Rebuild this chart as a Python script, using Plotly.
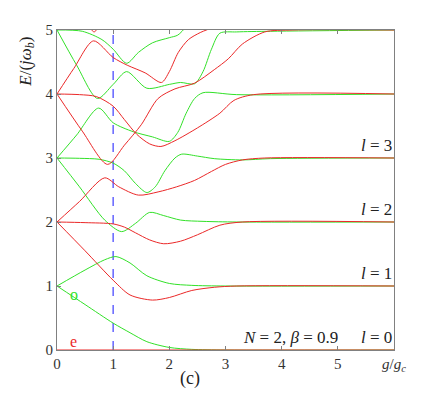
import plotly.graph_objects as go

# widma poziomow energii, N=2, beta=0.9
# czerwone = parzyste (e), zielone = nieparzyste (o)
r0_g = [0, 6]
r0_E = [0, 0]

g1d_g = [0, 0.5, 1.0, 1.3, 1.6, 2.0, 2.4, 3.0, 6]
g1d_E = [1, 0.71, 0.42, 0.27, 0.13, 0.04, 0.01, 0, 0]
g1u_g = [0, 0.5, 0.85, 1.05, 1.3, 1.6, 2.0, 2.4, 3.0, 6]
g1u_E = [1, 1.25, 1.41, 1.46, 1.36, 1.16, 1.04, 1.01, 1.0, 1.0]

r2a_g = [0, 0.5, 1.0, 1.3, 1.7, 2.0, 2.4, 2.8, 3.2, 6]
r2a_E = [2, 1.55, 1.09, 0.86, 0.78, 0.82, 0.93, 0.98, 1.0, 1.0]
r2b_g = [0, 0.5, 1.0, 1.2, 1.4, 1.65, 1.9, 2.2, 2.5, 2.9, 3.3, 6]
r2b_E = [2, 1.99, 1.97, 1.92, 1.83, 1.72, 1.66, 1.70, 1.80, 1.95, 2.0, 2.0]
r2c_g = [0, 0.4, 0.85, 1.1, 1.45, 1.8, 2.13, 2.45, 2.75, 3.0, 3.3, 3.7, 6]
r2c_E = [2, 2.32, 2.69, 2.55, 2.42, 2.47, 2.55, 2.65, 2.79, 2.9, 2.97, 3.0, 3.0]

g3d_g = [0, 0.4, 0.85, 1.15, 1.4, 1.65, 1.9, 2.2, 2.6, 3.2, 6]
g3d_E = [3, 2.55, 2.03, 1.85, 1.98, 2.15, 2.1, 2.03, 2.01, 2.0, 2.0]
g3f_g = [0, 0.4, 0.75, 1.0, 1.2, 1.4, 1.6, 1.75, 1.92, 2.1, 2.22, 2.5, 2.8, 3.3, 3.8, 6]
g3f_E = [3, 2.995, 2.98, 2.92, 2.8, 2.6, 2.46, 2.55, 2.8, 3.0, 3.06, 3.03, 2.99, 2.97, 2.99, 3.0]
g3u_g = [0, 0.35, 0.74, 1.0, 1.36, 1.7, 2.0, 2.15, 2.3, 2.45, 2.6, 3.2, 6]
g3u_E = [3, 3.36, 3.78, 3.55, 3.41, 3.33, 3.26, 3.4, 3.7, 3.93, 4.02, 3.99, 4.0]

r4d_g = [0, 0.45, 0.9, 1.2, 1.5, 1.8, 2.1, 2.45, 2.8, 3.05, 3.3, 3.7, 4.2, 6]
r4d_E = [4, 3.42, 2.9, 3.2, 3.52, 3.93, 4.08, 4.17, 4.38, 4.55, 4.78, 4.97, 5.0, 5.0]
r4f_g = [0, 0.4, 0.7, 1.0, 1.2, 1.42, 1.65, 1.85, 2.1, 2.5, 2.9, 3.15, 3.5, 6]
r4f_E = [4, 3.99, 3.96, 3.81, 3.6, 3.37, 3.22, 3.18, 3.27, 3.47, 3.7, 3.9, 3.99, 4.0]
r4u_g = [0, 0.3, 0.65, 1.0, 1.25, 1.57, 1.86, 2.0, 2.16, 2.34, 2.55, 2.8, 3.0]
r4u_E = [4, 4.4, 4.83, 4.57, 4.45, 4.33, 4.18, 4.35, 4.65, 4.85, 4.96, 5.05, 5.15]

g5d_g = [0, 0.35, 0.72, 1.0, 1.24, 1.6, 2.0, 2.2, 2.45, 2.6, 2.75, 2.9, 3.2, 3.8, 6]
g5d_E = [5, 4.45, 3.93, 4.15, 4.35, 4.09, 4.15, 4.18, 4.16, 4.35, 4.7, 4.95, 4.97, 4.98, 5.0]
g5f_g = [0, 0.45, 0.8, 1.0, 1.24, 1.45, 1.7, 2.0, 2.15, 2.3, 2.45]
g5f_E = [5, 4.98, 4.85, 4.7, 4.48, 4.65, 4.8, 4.88, 4.92, 5.05, 5.2]
r6_g = [0.52, 0.6, 0.66, 0.72, 0.8]
r6_E = [5.2, 5.02, 4.97, 5.02, 5.2]

czerwone = [(r0_g, r0_E), (r2a_g, r2a_E), (r2b_g, r2b_E), (r2c_g, r2c_E),
            (r4d_g, r4d_E), (r4f_g, r4f_E), (r4u_g, r4u_E), (r6_g, r6_E)]
zielone = [(g1d_g, g1d_E), (g1u_g, g1u_E), (g3d_g, g3d_E), (g3f_g, g3f_E),
           (g3u_g, g3u_E), (g5d_g, g5d_E), (g5f_g, g5f_E)]

RED = 'rgb(235,40,40)'
GREEN = 'rgb(50,225,40)'
SERIF = 'Times New Roman'

fig = go.Figure()

# linia przerywana g = g_c
fig.add_trace(go.Scatter(x=[1, 1], y=[0, 5], mode='lines',
                         line=dict(color='rgb(110,110,255)', width=1.6, dash='dash'),
                         hoverinfo='skip'))

for gx, ey in zielone:
    fig.add_trace(go.Scatter(x=gx, y=ey, mode='lines',
                             line=dict(color=GREEN, width=1, shape='spline', smoothing=0.8)))
for gx, ey in czerwone:
    fig.add_trace(go.Scatter(x=gx, y=ey, mode='lines',
                             line=dict(color=RED, width=1, shape='spline', smoothing=0.8)))

# podpisy
for l in range(4):
    fig.add_annotation(x=6, y=l + 0.2, xref='x', yref='y', xanchor='right', yanchor='middle',
                       text='<i>l</i> = %d' % l, showarrow=False,
                       font=dict(family=SERIF, size=17, color='#222'))
fig.add_annotation(x=5.03, y=0.2, xref='x', yref='y', xanchor='right', yanchor='middle',
                   text='<i>N</i> = 2, <i>β</i> = 0.9', showarrow=False,
                   font=dict(family=SERIF, size=17, color='#222'))
fig.add_annotation(x=0.3, y=0.13, text='e', showarrow=False,
                   font=dict(family=SERIF, size=16, color=RED))
fig.add_annotation(x=0.3, y=0.86, text='o', showarrow=False,
                   font=dict(family=SERIF, size=16, color=GREEN))
fig.add_annotation(x=-0.09, y=0.9, xref='paper', yref='paper', textangle=-90,
                   xanchor='center', yanchor='middle',
                   text='<i>E</i>/(<i>jω<sub>b</sub></i>)', showarrow=False,
                   font=dict(family=SERIF, size=17, color='#222'))
fig.add_annotation(x=0.395, y=-0.088, xref='paper', yref='paper', yanchor='middle',
                   text='(c)', showarrow=False,
                   font=dict(family=SERIF, size=18, color='#222'))

fig.update_layout(
    width=428, height=385,
    margin=dict(l=49, r=42, t=22, b=43),
    plot_bgcolor='white', paper_bgcolor='white',
    showlegend=False,
    font=dict(family=SERIF, size=15, color='#333'),
)
fig.update_xaxes(range=[0, 6], tickvals=[0, 1, 2, 3, 4, 5, 6],
                 ticktext=['0', '1', '2', '3', '4', '5', '<i>g</i>/<i>g<sub>c</sub></i>'],
                 showgrid=False, zeroline=False, showline=True, linecolor='gray', linewidth=1,
                 mirror='ticks', ticks='inside', ticklen=4, tickcolor='gray')
fig.update_yaxes(range=[0, 5], tickvals=[0, 1, 2, 3, 4, 5],
                 showgrid=False, zeroline=False, showline=True, linecolor='gray', linewidth=1,
                 mirror=True, ticks='inside', ticklen=4, tickcolor='gray')

fig.write_html("out.html")
